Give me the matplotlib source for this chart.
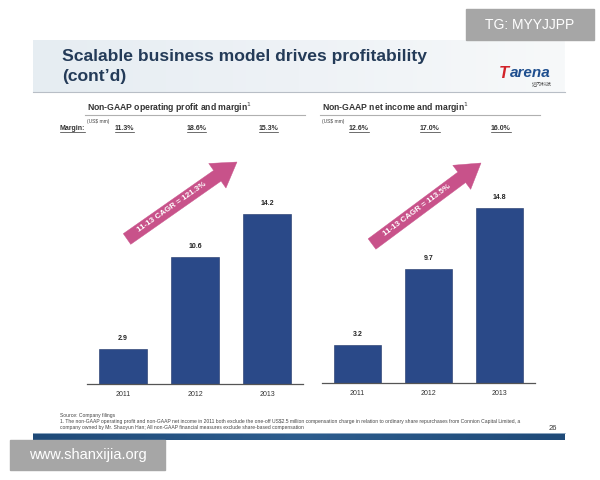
import numpy as np
import matplotlib
matplotlib.use("Agg")
import matplotlib.pyplot as plt
from matplotlib.patches import FancyArrow, Rectangle
import matplotlib.transforms as mtransforms
from matplotlib.colors import LinearSegmentedColormap

plt.rcParams['font.family'] = ['Liberation Sans', 'Noto Sans CJK SC', 'DejaVu Sans']

# ---------------- data ----------------
years = ['2011', '2012', '2013']
op_profit = [2.9, 10.6, 14.2]
op_margin = ['11.3%', '18.6%', '15.3%']
net_income = [3.2, 9.7, 14.8]
net_margin = ['12.6%', '17.0%', '16.0%']
cagr_op = '11-13 CAGR = 121.3%'
cagr_net = '11-13 CAGR = 113.5%'
title_lines = ['Scalable business model drives profitability', '(cont\u2019d)']
sub_left = 'Non-GAAP operating profit and margin$^1$'
sub_right = 'Non-GAAP net income and margin$^1$'
footnotes = [
    'Source: Company filings',
    '1. The non-GAAP operating profit and non-GAAP net income in 2011 both exclude the one-off US$2.5 million compensation charge in relation to ordinary share repurchases from Connion Capital Limited, a',
    'company owned by Mr. Shaoyun Han; All non-GAAP financial measures exclude share-based compensation',
]

W, H = 600, 480
fig = plt.figure(figsize=(6, 4.8), dpi=100)
fig.patch.set_facecolor('white')

def rect(x0, y0, x1, y1):
    return [x0 / W, 1 - y1 / H, (x1 - x0) / W, (y1 - y0) / H]

BAR = '#2A4988'
PINK = '#C8528A'
NAVY_T = '#243B58'

# overlay background axes (pixel coordinates)
bg = fig.add_axes([0, 0, 1, 1], zorder=0)
bg.set_xlim(0, W); bg.set_ylim(H, 0); bg.axis('off')

# header gradient
grad = np.linspace(0, 1, 256)[None, :]
cm = LinearSegmentedColormap.from_list('hdr', ['#e6edf2', '#eef2f6', '#f7f9fa'])
bg.imshow(grad, extent=[33, 565, 92, 40], cmap=cm, aspect='auto', zorder=0)
bg.plot([33, 565], [92, 92], color='#b8bec6', lw=0.8, zorder=1)

# title
bg.text(62, 57, title_lines[0], fontsize=12.6, fontweight='bold', color=NAVY_T, va='center', ha='left')
bg.text(62, 76, title_lines[1], fontsize=12.6, fontweight='bold', color=NAVY_T, va='center', ha='left')

# logo
tT = bg.text(499, 73, 'T', fontsize=12, fontweight='bold', style='italic', color='#d2232a', va='center', ha='left')

# subtitles
bg.text(87, 108, sub_left, fontsize=6.2, fontweight='bold', color='#333333', va='center', ha='left')
bg.plot([85, 305], [114.5, 114.5], color='#b0b0b0', lw=0.8)
bg.text(87, 121, '(US$ mm)', fontsize=3.5, color='#444444', va='center', ha='left')
bg.text(322, 108, sub_right, fontsize=6.2, fontweight='bold', color='#333333', va='center', ha='left')
bg.plot([320, 540], [114.5, 114.5], color='#b0b0b0', lw=0.8)
bg.text(322, 121, '(US$ mm)', fontsize=3.5, color='#444444', va='center', ha='left')

# footnotes and bottom band
for i, line in enumerate(footnotes):
    bg.text(60, 415 + i * 6, line, fontsize=3.6, color='#444444', va='center', ha='left')
bg.text(557, 428, '26', fontsize=5.5, color='#333333', va='center', ha='right')
bgrad = np.linspace(0, 1, 256)[None, :]
cm2 = LinearSegmentedColormap.from_list('band', ['#1f4a78', '#2d5d8e', '#1f4a78'])
bg.imshow(bgrad, extent=[33, 565, 440, 433], cmap=cm2, aspect='auto', zorder=1)
bg.plot([33, 565], [432.5, 432.5], color='#9fb6cc', lw=0.6, zorder=2)


def bar_panel(pos, values, margins, ymax):
    ax = fig.add_axes(rect(*pos), zorder=2)
    ax.patch.set_alpha(0)
    x = np.arange(len(values))
    ax.bar(x, values, width=0.655, color=BAR, edgecolor='#1c3366', linewidth=0.4)
    ax.set_xlim(-0.5, len(values) - 0.5)
    ax.set_ylim(0, ymax)
    for s in ['top', 'right', 'left']:
        ax.spines[s].set_visible(False)
    ax.spines['bottom'].set_color('#555555')
    ax.spines['bottom'].set_linewidth(0.9)
    ax.set_yticks([])
    ax.set_xticks(x)
    ax.set_xticklabels(years, fontsize=5, color='#333333')
    ax.tick_params(axis='x', length=0, pad=5)
    for xi, v in zip(x, values):
        ax.annotate(f'{v:.1f}', (xi, v), xytext=(0, 5), textcoords='offset points',
                    ha='center', va='bottom', fontsize=5, fontweight='bold', color='#222222')
    trans = mtransforms.blended_transform_factory(ax.transData, fig.transFigure)
    texts = []
    for xi, m in zip(x, margins):
        t = ax.text(xi + 0.02, 1 - 129 / H, m, transform=trans, fontsize=5, fontweight='bold',
                    color='#333333', ha='center', va='center')
        texts.append(t)
    return ax, texts

axL, tL = bar_panel((87, 184, 303, 384), op_profit, op_margin, 200 / 12.0)
axR, tR = bar_panel((322, 183, 535, 383), net_income, net_margin, 200 / 11.8)

mtext = bg.text(60, 129, 'Margin:', fontsize=5, fontweight='bold', color='#333333', va='center', ha='left')

# underline margin texts, place logo remainder
fig.canvas.draw()
renderer = fig.canvas.get_renderer()
inv = bg.transData.inverted()
for t in tL + tR + [mtext]:
    bb = t.get_window_extent(renderer)
    (x0, y0), (x1, y1) = inv.transform([[bb.x0, bb.y0], [bb.x1, bb.y1]])
    yb = max(y0, y1) - 0.5
    bg.plot([x0, x1], [yb, yb], color='#333333', lw=0.5)

bbT = tT.get_window_extent(renderer)
xT1 = inv.transform([[bbT.x1, bbT.y0]])[0][0]
bg.text(xT1 + 0.5, 73, 'arena', fontsize=11, fontweight='bold', style='italic', color='#1f4f8f',
        va='center', ha='left')
bg.text(552, 84, '达内科技', fontsize=3.6, family=['Noto Sans CJK SC'], color='#444444',
        va='center', ha='right')

# foreground overlay for arrows
fg = fig.add_axes([0, 0, 1, 1], zorder=5)
fg.set_xlim(0, W); fg.set_ylim(H, 0); fg.axis('off')
fg.patch.set_alpha(0)

def cagr_arrow(x0, y0, x1, y1, label):
    dx, dy = x1 - x0, y1 - y0
    arr = FancyArrow(x0, y0, dx, dy, width=13, head_width=30, head_length=24,
                     length_includes_head=True, color=PINK, ec=PINK, lw=0.3)
    fg.add_patch(arr)
    ang = np.degrees(np.arctan2(-dy, dx))
    L = np.hypot(dx, dy)
    frac = (L - 24) / 2 / L
    cx, cy = x0 + dx * frac, y0 + dy * frac
    fg.text(cx, cy, label, rotation=ang, rotation_mode='anchor', ha='center', va='center',
            fontsize=5.8, fontweight='bold', color='white')

cagr_arrow(127, 239, 237, 162, cagr_op)
cagr_arrow(372, 244, 481, 163, cagr_net)

# watermark boxes
fg.add_patch(Rectangle((466, 9), 128, 31, color='#a6a6a6', zorder=1))
fg.text(530, 25, 'TG: MYYJJPP', fontsize=10, color='white', ha='center', va='center', zorder=2)
fg.add_patch(Rectangle((10, 440), 155, 30, color='#a6a6a6', zorder=1))
fg.text(87.5, 455, 'www.shanxijia.org', fontsize=10.5, color='white', ha='center', va='center', zorder=2)

fig.savefig('out.png', dpi=100)
